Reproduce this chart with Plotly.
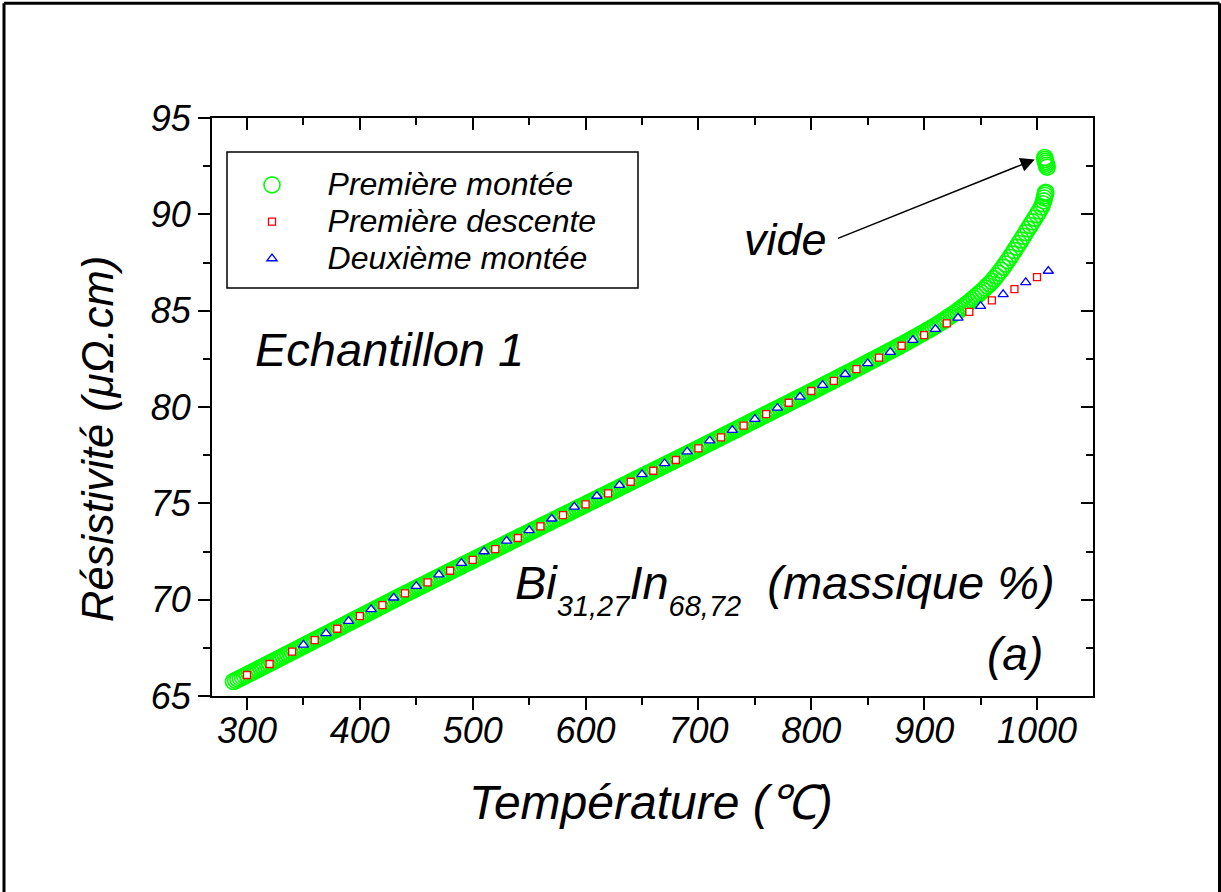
import plotly.graph_objects as go

# ---------------- data ----------------
green_T = [288, 290, 292, 294, 296, 298,
           300, 302, 304, 306, 308, 310, 312, 314, 316, 318,
           320, 322, 324, 326, 328, 330, 332, 334, 336, 338,
           340, 342, 344, 346, 348, 350, 352, 354, 356, 358,
           360, 362, 364, 366, 368, 370, 372, 374, 376, 378,
           380, 382, 384, 386, 388, 390, 392, 394, 396, 398,
           400, 402, 404, 406, 408, 410, 412, 414, 416, 418,
           420, 422, 424, 426, 428, 430, 432, 434, 436, 438,
           440, 442, 444, 446, 448, 450, 452, 454, 456, 458,
           460, 462, 464, 466, 468, 470, 472, 474, 476, 478,
           480, 482, 484, 486, 488, 490, 492, 494, 496, 498,
           500, 502, 504, 506, 508, 510, 512, 514, 516, 518,
           520, 522, 524, 526, 528, 530, 532, 534, 536, 538,
           540, 542, 544, 546, 548, 550, 552, 554, 556, 558,
           560, 562, 564, 566, 568, 570, 572, 574, 576, 578,
           580, 582, 584, 586, 588, 590, 592, 594, 596, 598,
           600, 602, 604, 606, 608, 610, 612, 614, 616, 618,
           620, 622, 624, 626, 628, 630, 632, 634, 636, 638,
           640, 642, 644, 646, 648, 650, 652, 654, 656, 658,
           660, 662, 664, 666, 668, 670, 672, 674, 676, 678,
           680, 682, 684, 686, 688, 690, 692, 694, 696, 698,
           700, 702, 704, 706, 708, 710, 712, 714, 716, 718,
           720, 722, 724, 726, 728, 730, 732, 734, 736, 738,
           740, 742, 744, 746, 748, 750, 752, 754, 756, 758,
           760, 762, 764, 766, 768, 770, 772, 774, 776, 778,
           780, 782, 784, 786, 788, 790, 792, 794, 796, 798,
           800, 802, 804, 806, 808, 810, 812, 814, 816, 818,
           820, 822, 824, 826, 828, 830, 832, 834, 836, 838,
           840, 842, 844, 846, 848, 850, 852, 854, 856, 858,
           860, 862, 864, 866, 868, 870, 872, 874, 876, 878,
           880, 882, 884, 886, 888, 890, 892, 894, 896, 898,
           900, 902, 904, 906, 908, 910, 912, 914, 916, 918,
           920, 922, 924, 926, 928, 930, 932, 934, 936, 938,
           940, 942, 944, 946, 948, 950, 952, 954, 956, 958,
           960, 962, 964, 966, 968, 970, 972, 974, 976, 978,
           980, 982, 984, 986, 988, 990, 992, 994, 996, 998,
           1000, 1002, 1004,
           1005, 1006, 1006.5, 1007, 1007.5, 1007.7,
           1009, 1008.5, 1008, 1007.5, 1007, 1006.8]
green_R = [65.75, 65.81, 65.87, 65.93, 65.98, 66.04,
           66.10, 66.16, 66.22, 66.28, 66.34, 66.40, 66.46, 66.52, 66.58, 66.64,
           66.70, 66.76, 66.82, 66.88, 66.94, 67.00, 67.06, 67.12, 67.18, 67.24,
           67.30, 67.36, 67.42, 67.48, 67.54, 67.60, 67.66, 67.72, 67.78, 67.84,
           67.90, 67.96, 68.02, 68.08, 68.14, 68.20, 68.26, 68.32, 68.38, 68.44,
           68.50, 68.56, 68.62, 68.68, 68.74, 68.80, 68.86, 68.92, 68.98, 69.04,
           69.10, 69.16, 69.22, 69.28, 69.34, 69.40, 69.46, 69.52, 69.58, 69.64,
           69.70, 69.76, 69.82, 69.88, 69.94, 70.00, 70.06, 70.12, 70.18, 70.24,
           70.30, 70.36, 70.41, 70.47, 70.53, 70.59, 70.65, 70.71, 70.76, 70.82,
           70.88, 70.94, 71.00, 71.06, 71.12, 71.18, 71.24, 71.29, 71.35, 71.41,
           71.47, 71.53, 71.59, 71.64, 71.70, 71.76, 71.82, 71.88, 71.93, 71.99,
           72.05, 72.11, 72.17, 72.22, 72.28, 72.34, 72.40, 72.46, 72.51, 72.57,
           72.63, 72.69, 72.75, 72.80, 72.86, 72.92, 72.98, 73.04, 73.09, 73.15,
           73.21, 73.27, 73.33, 73.38, 73.44, 73.50, 73.56, 73.62, 73.67, 73.73,
           73.79, 73.85, 73.91, 73.96, 74.02, 74.08, 74.14, 74.20, 74.25, 74.31,
           74.37, 74.43, 74.49, 74.54, 74.60, 74.66, 74.72, 74.78, 74.83, 74.89,
           74.95, 75.01, 75.07, 75.12, 75.18, 75.24, 75.30, 75.36, 75.41, 75.47,
           75.53, 75.59, 75.65, 75.70, 75.76, 75.82, 75.88, 75.94, 75.99, 76.05,
           76.11, 76.17, 76.23, 76.28, 76.34, 76.40, 76.46, 76.52, 76.57, 76.63,
           76.69, 76.75, 76.81, 76.86, 76.92, 76.98, 77.04, 77.10, 77.15, 77.21,
           77.27, 77.33, 77.39, 77.44, 77.50, 77.56, 77.62, 77.68, 77.73, 77.79,
           77.85, 77.91, 77.97, 78.03, 78.09, 78.15, 78.20, 78.26, 78.32, 78.38,
           78.44, 78.50, 78.56, 78.62, 78.68, 78.74, 78.79, 78.85, 78.91, 78.97,
           79.03, 79.09, 79.15, 79.21, 79.27, 79.33, 79.38, 79.44, 79.50, 79.56,
           79.62, 79.68, 79.74, 79.80, 79.86, 79.92, 79.97, 80.03, 80.09, 80.15,
           80.21, 80.27, 80.33, 80.39, 80.45, 80.51, 80.56, 80.62, 80.68, 80.74,
           80.80, 80.86, 80.92, 80.98, 81.04, 81.10, 81.16, 81.22, 81.28, 81.34,
           81.40, 81.46, 81.52, 81.58, 81.64, 81.70, 81.76, 81.82, 81.88, 81.94,
           82.00, 82.06, 82.12, 82.18, 82.24, 82.31, 82.37, 82.43, 82.49, 82.55,
           82.61, 82.67, 82.73, 82.80, 82.86, 82.92, 82.98, 83.04, 83.11, 83.17,
           83.23, 83.29, 83.36, 83.42, 83.49, 83.55, 83.62, 83.68, 83.75, 83.81,
           83.88, 83.95, 84.01, 84.08, 84.15, 84.22, 84.29, 84.37, 84.44, 84.52,
           84.60, 84.68, 84.76, 84.84, 84.92, 85.00, 85.09, 85.18, 85.27, 85.36,
           85.45, 85.55, 85.65, 85.75, 85.85, 85.95, 86.06, 86.17, 86.29, 86.40,
           86.52, 86.66, 86.80, 86.95, 87.10, 87.25, 87.42, 87.59, 87.76, 87.94,
           88.12, 88.30, 88.49, 88.67, 88.86, 89.05, 89.24, 89.42, 89.61, 89.80,
           89.98, 90.18, 90.38,
           90.55, 90.70, 90.85, 90.98, 91.08, 91.15,
           92.45, 92.55, 92.65, 92.75, 92.85, 92.95]

red_T = [300, 320, 340, 360, 380, 400, 420, 440, 460, 480, 500, 520, 540, 560, 580, 600, 620, 640,
         660, 680, 700, 720, 740, 760, 780, 800, 820, 840, 860, 880, 900, 920, 940, 960, 980, 1000]
red_R = [66.09, 66.66, 67.30, 67.90, 68.49, 69.15, 69.72, 70.33, 70.90, 71.50, 72.07, 72.62, 73.20,
         73.80, 74.39, 74.95, 75.52, 76.12, 76.69, 77.25, 77.85, 78.42, 79.03, 79.63, 80.22, 80.83,
         81.36, 81.97, 82.56, 83.18, 83.73, 84.34, 84.94, 85.53, 86.12, 86.74]

blue_T = [350, 370, 390, 410, 430, 450, 470, 490, 510, 530, 550, 570, 590, 610, 630, 650, 670,
          690, 710, 730, 750, 770, 790, 810, 830, 850, 870, 890, 910, 930, 950, 970, 990, 1010]
blue_R = [67.65, 68.25, 68.89, 69.50, 70.10, 70.70, 71.30, 71.90, 72.50, 73.05, 73.60, 74.20, 74.82,
          75.38, 75.95, 76.50, 77.07, 77.68, 78.25, 78.80, 79.37, 79.95, 80.53, 81.14, 81.70, 82.26,
          82.85, 83.47, 84.04, 84.63, 85.24, 85.85, 86.47, 87.06]

series_names = ["Première montée", "Première descente", "Deuxième montée"]
x_title = "Température (℃)"
y_title = "Résistivité (μΩ.cm)"

# ---------------- figure ----------------
FONT = "Liberation Sans, Arial, sans-serif"


def legend_label(s):
    return "<span style='font-size:32px'>" + "\u00a0" * 4 + s + "</span>"


fig = go.Figure()
fig.add_trace(go.Scatter(
    x=green_T, y=green_R, mode="markers", name=legend_label(series_names[0]),
    marker=dict(symbol="circle-open", size=16, color="#00FF00", line=dict(width=1.6))))
fig.add_trace(go.Scatter(
    x=red_T, y=red_R, mode="markers", name=legend_label(series_names[1]),
    marker=dict(symbol="square", size=7, color="white", line=dict(width=1.3, color="#FF0000"))))
fig.add_trace(go.Scatter(
    x=blue_T, y=blue_R, mode="markers", name=legend_label(series_names[2]),
    marker=dict(symbol="triangle-up", size=9, color="white", line=dict(width=1.3, color="#0000FF"))))
# empty trace so that the mirrored top/right axes (inward ticks) get drawn
fig.add_trace(go.Scatter(x=[], y=[], xaxis="x2", yaxis="y2", mode="markers",
                         showlegend=False, hoverinfo="skip"))

tickfont = dict(family=FONT, size=36, color="black", style="italic")
common = dict(showgrid=False, zeroline=False, showline=True, linecolor="black", linewidth=2,
              tickcolor="black", tickwidth=2, ticklen=12)

XR = [269, 1049.6]
YR = [65, 95]


def minor(kind, d):
    return dict(ticks=kind, ticklen=7, tickwidth=2, tickcolor="black", dtick=d, tick0=0, showgrid=False)


fig.update_layout(
    width=1221, height=892,
    margin=dict(l=212, r=128, t=118, b=196),
    paper_bgcolor="white", plot_bgcolor="white",
    font=dict(family=FONT, color="black"),
    xaxis=dict(range=XR, tickmode="linear", tick0=0, dtick=100, ticks="outside",
               tickfont=tickfont, ticklabelstandoff=-10, mirror=False,
               minor=minor("outside", 50), **common),
    yaxis=dict(range=YR, tickmode="linear", tick0=0, dtick=5, ticks="outside",
               tickfont=tickfont, mirror=False, minor=minor("outside", 2.5), **common),
    xaxis2=dict(range=XR, overlaying="x", side="top", anchor="y2",
                tickmode="linear", tick0=0, dtick=100, ticks="inside", showticklabels=False,
                minor=minor("inside", 50), **common),
    yaxis2=dict(range=YR, overlaying="y", side="right", anchor="x2",
                tickmode="linear", tick0=0, dtick=5, ticks="inside", showticklabels=False,
                minor=minor("inside", 2.5), **common),
    showlegend=True,
    legend=dict(x=(252 - 212) / 881, y=(696 - 161.5) / 578, xanchor="left", yanchor="top",
                bgcolor="rgba(0,0,0,0)", borderwidth=0,
                font=dict(family=FONT, size=26, color="black", style="italic"),
                traceorder="normal"),
)

# frame around the whole picture (left, top, right)
fl, fr = (4 - 212) / 881, (1219.5 - 212) / 881
ft, fb = (696 - 3.3) / 578, (696 - 900) / 578
for x0, y0, x1, y1 in [(fl, fb, fl, ft), (fl, ft, fr, ft), (fr, ft, fr, fb)]:
    fig.add_shape(type="line", xref="paper", yref="paper", x0=x0, y0=y0, x1=x1, y1=y1,
                  line=dict(color="black", width=3))

# legend box
fig.add_shape(type="rect", xref="paper", yref="paper",
              x0=(227 - 212) / 881, x1=(638 - 212) / 881,
              y0=(696 - 288) / 578, y1=(696 - 152) / 578,
              line=dict(color="black", width=1.5), fillcolor="rgba(0,0,0,0)")


def ital(s):
    return dict(family=FONT, size=s, color="black", style="italic")


fig.add_annotation(x=305.0, y=83.0, xref="x", yref="y", text="Echantillon 1", showarrow=False,
                   xanchor="left", yanchor="middle", font=ital(47))
fig.add_annotation(x=739.0, y=88.67, xref="x", yref="y", text="vide", showarrow=False,
                   xanchor="left", yanchor="middle", font=ital(45))
fig.add_annotation(x=998, y=92.85, ax=822.3, ay=88.72, xref="x", yref="y", axref="x", ayref="y",
                   text="", showarrow=True, arrowhead=2, arrowsize=1.9, arrowwidth=1.5,
                   arrowcolor="black", standoff=0)
SUB = "<sub><sub><span style='font-size:29px'>{}</span></sub></sub>"
fig.add_annotation(x=1017.7, y=70.55, xref="x", yref="y",
                   text="Bi" + SUB.format("31,27") + "In" + SUB.format("68,72") + "\u00a0 (massique %)",
                   showarrow=False, xanchor="right", yanchor="middle", font=ital(47))
fig.add_annotation(x=1007.5, y=67.17, xref="x", yref="y", text="(a)", showarrow=False,
                   xanchor="right", yanchor="middle", font=ital(46))
fig.add_annotation(x=(651 - 212) / 881, y=(696 - 802) / 578, xref="paper", yref="paper",
                   text=x_title, showarrow=False, xanchor="center", yanchor="middle", font=ital(48))
fig.add_annotation(x=(98 - 212) / 881, y=(696 - 439) / 578, xref="paper", yref="paper",
                   text=y_title, showarrow=False, textangle=-90, xanchor="center", yanchor="middle",
                   font=ital(43.5))

fig.write_html("out.html", config={"displayModeBar": False},
               post_script="document.body.style.margin='0px';")
